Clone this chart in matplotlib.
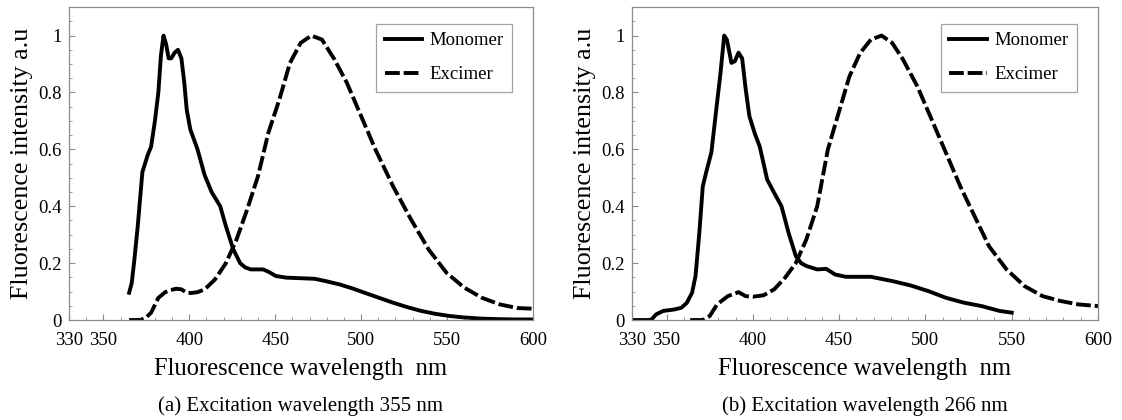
import matplotlib
matplotlib.use('Agg')
import matplotlib.pyplot as plt
from matplotlib.ticker import MultipleLocator

plt.rcParams['font.family'] = ['Liberation Serif', 'DejaVu Serif']

# (a) excitation 355 nm
a_mono_x = [365, 366.5, 368, 370, 372.7, 375.8, 377.8, 380, 382, 383.5, 385, 386.5, 388, 389.5, 391.5,
            393.4, 395.4, 397, 398.5, 400.6, 404.8, 408.9, 413, 418, 421.3, 425.5, 429.6, 432.5,
            435.8, 443, 446, 450.3, 456.5, 465, 473, 480, 487.6, 495, 502, 510, 518.6, 527, 535,
            543, 551.8, 560, 570, 580, 590, 600]
a_mono_y = [0.096, 0.13, 0.21, 0.33, 0.52, 0.58, 0.61, 0.70, 0.80, 0.93, 1.0, 0.97, 0.92, 0.92, 0.94,
            0.95, 0.92, 0.84, 0.74, 0.67, 0.60, 0.51, 0.45, 0.40, 0.33, 0.25, 0.20, 0.185, 0.178,
            0.178, 0.17, 0.155, 0.149, 0.147, 0.145, 0.136, 0.125, 0.111, 0.096, 0.079, 0.061,
            0.045, 0.032, 0.022, 0.014, 0.009, 0.005, 0.003, 0.002, 0.002]
a_exc_x = [365, 371.6, 375, 377.8, 382, 386, 389, 392.3, 395.4, 398.5, 401, 404.8, 409, 415, 421.3,
           427.5, 433.7, 440, 446, 452.4, 458.6, 464.8, 471, 477.2, 484.5, 491.7, 500, 508.3, 518.6,
           529, 539.3, 549.7, 560, 570.4, 580.7, 591, 600]
a_exc_y = [0.0, 0.0, 0.01, 0.026, 0.078, 0.098, 0.105, 0.11, 0.108, 0.096, 0.095, 0.098, 0.108, 0.143,
           0.20, 0.283, 0.389, 0.506, 0.658, 0.775, 0.904, 0.974, 1.0, 0.986, 0.916, 0.834, 0.717,
           0.60, 0.47, 0.354, 0.248, 0.166, 0.114, 0.078, 0.055, 0.042, 0.04]

# (b) excitation 266 nm
b_mono_x = [330, 341, 344, 348, 354.4, 358.5, 361.7, 364.8, 366.8, 369, 371, 373, 376, 379, 381.3,
            383.4, 385, 387.6, 389.6, 391.7, 393.8, 395.9, 398, 401, 404, 408.3, 412.4, 416.6,
            420.7, 424.9, 428, 431, 437.3, 442.5, 447.7, 453.9, 468.4, 480.8, 491.2, 501.6, 512,
            522.3, 532.6, 543, 550]
b_mono_y = [0.0, 0.0, 0.02, 0.032, 0.037, 0.043, 0.06, 0.096, 0.155, 0.307, 0.47, 0.52, 0.59, 0.75,
            0.87, 1.0, 0.985, 0.904, 0.91, 0.94, 0.92, 0.81, 0.717, 0.658, 0.61, 0.494, 0.447, 0.40,
            0.307, 0.225, 0.20, 0.19, 0.178, 0.18, 0.16, 0.152, 0.152, 0.137, 0.122, 0.102, 0.078,
            0.061, 0.049, 0.032, 0.026]
b_exc_x = [363.7, 371, 375, 379.3, 385.5, 391.7, 395.9, 400, 406.2, 412.4, 418.7, 424.9, 431, 437.3,
           443.5, 449.7, 456, 462.2, 468.4, 474.6, 480.8, 487, 495.3, 503.6, 511.9, 520.2, 528.5,
           536.8, 547, 557.5, 567.9, 578.2, 588.6, 600]
b_exc_y = [0.0, 0.0, 0.014, 0.055, 0.084, 0.098, 0.084, 0.082, 0.087, 0.108, 0.149, 0.20, 0.283, 0.40,
           0.60, 0.728, 0.857, 0.939, 0.986, 1.0, 0.974, 0.916, 0.822, 0.705, 0.588, 0.47, 0.365,
           0.26, 0.178, 0.119, 0.084, 0.067, 0.055, 0.049]

captions = ['(a) Excitation wavelength 355 nm', '(b) Excitation wavelength 266 nm']
xticks = [330, 350, 400, 450, 500, 550, 600]
yticks = [0, 0.2, 0.4, 0.6, 0.8, 1]
ytick_labels = ['0', '0.2', '0.4', '0.6', '0.8', '1']

fig = plt.figure(figsize=(11.22, 4.2), dpi=100)
boxes = [[0.0615, 0.238, 0.4135, 0.745], [0.5633, 0.238, 0.4153, 0.745]]
panels = [(a_mono_x, a_mono_y, a_exc_x, a_exc_y), (b_mono_x, b_mono_y, b_exc_x, b_exc_y)]
frame = '#8c8c8c'

for box, (mx, my, ex, ey), cap in zip(boxes, panels, captions):
    ax = fig.add_axes(box)
    ax.plot(mx, my, color='black', lw=2.8, label='Monomer', solid_joinstyle='round')
    ax.plot(ex, ey, color='black', lw=2.8, ls=(0, (3.8, 1.0)), label='Excimer')
    ax.set_xlim(330, 600)
    ax.set_ylim(0, 1.1)
    ax.set_xticks(xticks)
    ax.set_yticks(yticks)
    ax.set_yticklabels(ytick_labels)
    ax.xaxis.set_minor_locator(MultipleLocator(10))
    ax.yaxis.set_minor_locator(MultipleLocator(0.05))
    ax.tick_params(which='both', direction='in', color=frame, labelsize=13.5, top=False, right=False)
    ax.tick_params(which='major', length=4)
    ax.tick_params(axis='x', which='major', pad=8.5)
    ax.tick_params(axis='y', which='major', pad=5)
    ax.tick_params(which='minor', length=2.5)
    for s in ax.spines.values():
        s.set_color(frame)
        s.set_linewidth(0.9)
    ax.set_xlabel('Fluorescence wavelength  nm', fontsize=17.7, labelpad=6.5)
    ax.set_ylabel('Fluorescence intensity a.u', fontsize=18.7, labelpad=4)
    leg = ax.legend(loc='upper right', bbox_to_anchor=(0.955, 0.947), fontsize=13.5, frameon=True,
                    fancybox=False, edgecolor=frame, handlelength=2.0, handletextpad=0.4,
                    labelspacing=0.9, borderpad=0.45, borderaxespad=0)
    leg.get_frame().set_linewidth(0.9)
    fig.text(box[0] + box[2] / 2, 0.033, cap, ha='center', va='center', fontsize=15)

fig.savefig('out.png', dpi=100)
